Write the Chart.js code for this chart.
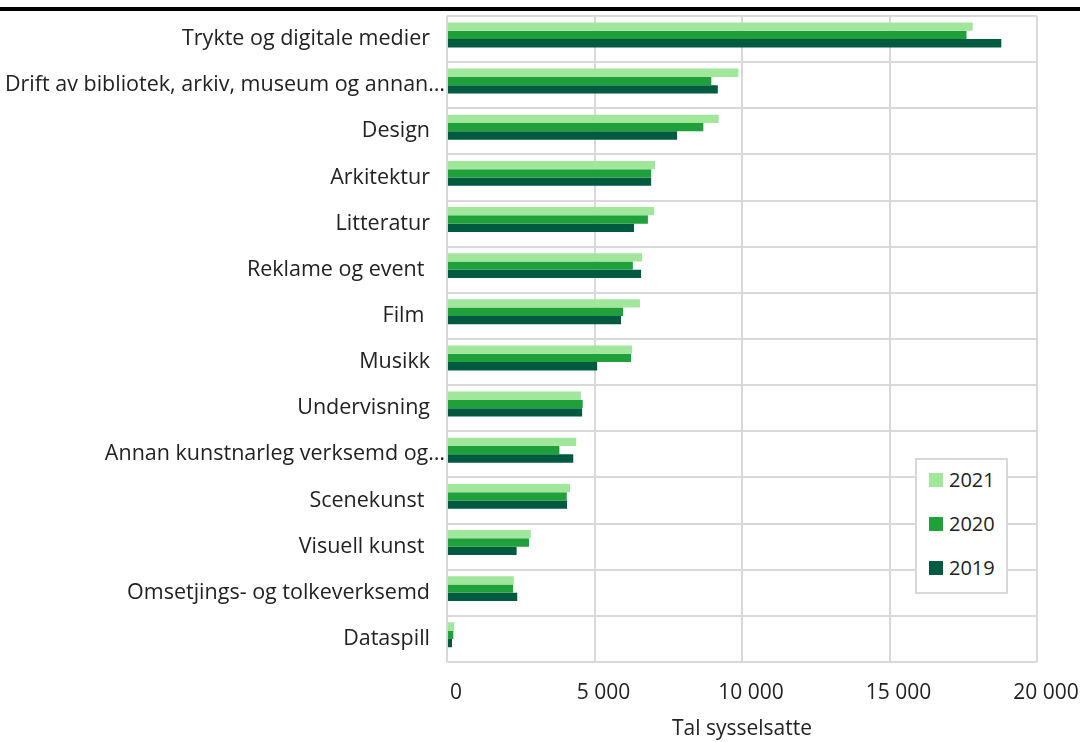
<!DOCTYPE html>
<html>
<head>
<meta charset="utf-8">
<script src="https://cdn.jsdelivr.net/npm/chart.js@4"></script>
<style>
  body{margin:0;background:#fff;font-family:"Open Sans",sans-serif;}
  #wrap{position:relative;width:1080px;height:742px;}
  #rule{position:absolute;left:0;top:7px;width:1080px;height:4px;background:#000;}
  #legend{position:absolute;left:915px;top:458px;width:89px;height:132px;border:2px solid #d9d9d9;background:#fff;}
  .item{position:absolute;left:12px;font-size:20px;color:#222;line-height:22px;}
  .item span{display:inline-block;width:14px;height:14px;margin-right:6px;vertical-align:0px;}
</style>
</head>
<body>
<div id="wrap">
  <canvas id="chart" width="1080" height="742"></canvas>
  <div id="rule"></div>
  <div id="legend"></div>
</div>
<script>
const categories = ['Trykte og digitale medier','Drift av bibliotek, arkiv, museum og annan…','Design','Arkitektur','Litteratur','Reklame og event ','Film ','Musikk','Undervisning','Annan kunstnarleg verksemd og…','Scenekunst ','Visuell kunst ','Omsetjings- og tolkeverksemd','Dataspill'];
const years = ['2021','2020','2019'];
const v2021 = [17820, 9880, 9210, 7050, 7020, 6610, 6540, 6270, 4540, 4380, 4170, 2840, 2260, 240];
const v2020 = [17610, 8960, 8690, 6920, 6810, 6300, 5970, 6240, 4600, 3810, 4060, 2780, 2240, 215];
const v2019 = [18790, 9180, 7800, 6920, 6340, 6580, 5900, 5090, 4580, 4280, 4070, 2360, 2380, 170];
// the source chart holds a fourth, empty series below 2019
const vEmpty = [null, null, null, null, null, null, null, null, null, null, null, null, null, null];
const colors = ['#a0e69b','#20a03a','#005a40'];
const xTicks = [0, 5000, 10000, 15000, 20000];

const font = {family:'"Open Sans", sans-serif', size:21};
const fmt = v => String(v).replace(/\B(?=(\d{3})+(?!\d))/g, ' ');

// category labels: cut ones (ending in …) run up to the axis, others stop 17px short
const catLabels = {
  id:'catLabels',
  afterDraw(chart){
    const ctx = chart.ctx, y = chart.scales.y, left = chart.chartArea.left;
    ctx.save();
    ctx.font = '21.5px "Open Sans", sans-serif';
    ctx.fillStyle = '#222';
    ctx.textAlign = 'right';
    ctx.textBaseline = 'middle';
    categories.forEach((c,i)=>{
      const end = c.endsWith('…') ? left - 2 : left - 17;
      ctx.fillText(c, end, y.getPixelForValue(i));
    });
    ctx.restore();
  }
};

const sets = [v2021,v2020,v2019].map((d,i)=>({label:years[i], data:d, backgroundColor:colors[i]}));
sets.push({label:'', data:vEmpty, backgroundColor:'#fff'});

new Chart(document.getElementById('chart').getContext('2d'), {
  type:'bar',
  data:{labels:categories, datasets:sets},
  options:{
    indexAxis:'y', responsive:false, animation:false,
    datasets:{bar:{borderWidth:0, barPercentage:1, categoryPercentage:0.72}},
    layout:{padding:{top:16,right:43,bottom:0,left:0}},
    plugins:{legend:{display:false}, tooltip:{enabled:false}},
    scales:{
      x:{min:0,max:20000,
        afterBuildTicks:s=>{s.ticks=xTicks.map(v=>({value:v}));},
        afterFit:s=>{s.height=80; s.paddingLeft=0; s.paddingRight=0;},
        grid:{color:'#d9d9d9',lineWidth:2,drawTicks:false},
        border:{display:false},
        ticks:{font, color:'#222', padding:18, labelOffset:9, maxRotation:0, callback:v=>fmt(v)},
        title:{display:true,text:'Tal sysselsatte',font,color:'#222',padding:{top:0,bottom:0}}
      },
      y:{
        afterFit:s=>{s.width=447; s.paddingTop=0; s.paddingBottom=0;},
        grid:{color:'#d9d9d9',lineWidth:2,drawTicks:false,offset:true},
        border:{display:false},
        ticks:{display:false}
      }
    }
  },
  plugins:[catLabels]
});

const lg = document.getElementById('legend');
years.forEach((y,i)=>{
  const d = document.createElement('div');
  d.className='item';
  d.style.top = (9 + i*44) + 'px';
  d.innerHTML = '<span style="background:'+colors[i]+'"></span>'+y;
  lg.appendChild(d);
});
</script>
</body>
</html>
